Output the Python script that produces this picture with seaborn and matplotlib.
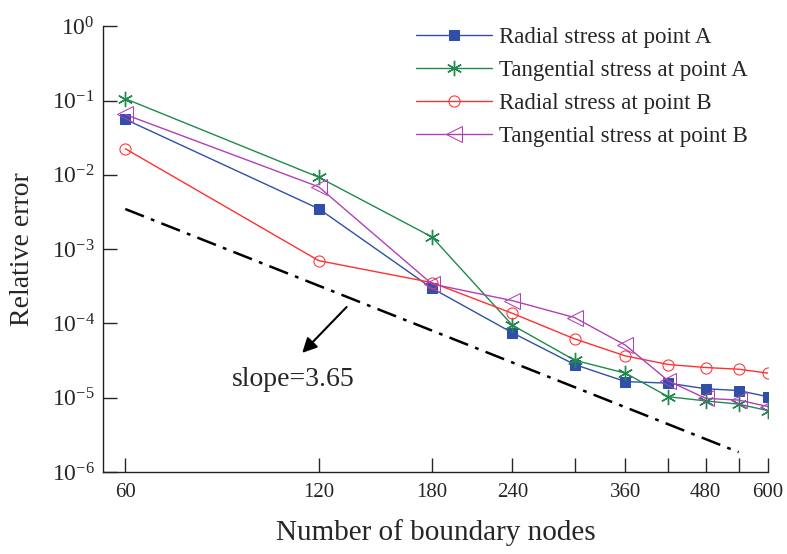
import numpy as np
import pandas as pd
import matplotlib
matplotlib.use("Agg")
import matplotlib.pyplot as plt
import seaborn as sns

nodes = [60, 120, 180, 240, 300, 360, 420, 480, 540, 600]
radial_A = [5.6e-2, 3.5e-3, 2.98e-4, 7.5e-5, 2.8e-5, 1.65e-5, 1.57e-5, 1.32e-5, 1.25e-5, 1.03e-5]
tangential_A = [1.06e-1, 9.3e-3, 1.46e-3, 9.5e-5, 3.2e-5, 2.14e-5, 1.03e-5, 9.06e-6, 8.2e-6, 6.7e-6]
radial_B = [2.25e-2, 7.0e-4, 3.55e-4, 1.37e-4, 6.2e-5, 3.65e-5, 2.8e-5, 2.55e-5, 2.42e-5, 2.14e-5]
tangential_B = [6.5e-2, 6.9e-3, 3.4e-4, 2.03e-4, 1.2e-4, 5.1e-5, 1.68e-5, 9.8e-6, 9.3e-6, 7.6e-6]
series_names = ["Radial stress at point A", "Tangential stress at point A",
                "Radial stress at point B", "Tangential stress at point B"]
ref_x = [60, 540]
ref_y = [3.47e-3, 1.85e-6]
x_ticks = [60, 120, 180, 240, 300, 360, 420, 480, 540, 600]
x_tick_labels = ["60", "120", "180", "240", "", "360", "", "480", "", "600"]
y_ticks = [1e-6, 1e-5, 1e-4, 1e-3, 1e-2, 1e-1, 1e0]
y_tick_labels = [r"$\mathregular{10^{-6}}$", r"$\mathregular{10^{-5}}$", r"$\mathregular{10^{-4}}$",
                 r"$\mathregular{10^{-3}}$", r"$\mathregular{10^{-2}}$", r"$\mathregular{10^{-1}}$",
                 r"$\mathregular{10^{0}}$"]

sns.set_style("ticks")
plt.rcParams["font.family"] = ["Liberation Serif", "DejaVu Serif"]
plt.rcParams["axes.unicode_minus"] = False
plt.rcParams["mathtext.fontset"] = "custom"
plt.rcParams["mathtext.rm"] = "Liberation Serif"
plt.rcParams["mathtext.it"] = "Liberation Serif:italic"
plt.rcParams["mathtext.bf"] = "Liberation Serif:bold"

fig = plt.figure(figsize=(7.87, 5.54), dpi=100)
ax = fig.add_axes([0.1309, 0.148, 0.845, 0.8045])

styles = [
    dict(color="#2f4fa8", marker="s", markersize=7, markerfacecolor="#2f4fa8", markeredgecolor="#2f4fa8"),
    dict(color="#1f8a4c", marker=(6, 2, 0), markersize=11, markeredgewidth=1.0, markeredgecolor="#1f8a4c"),
    dict(color="#ff3030", marker="o", markersize=8, markerfacecolor="none", markeredgecolor="#ff3030"),
    dict(color="#b040b8", marker="<", markersize=11, markerfacecolor="none", markeredgecolor="#b040b8"),
]
all_vals = [radial_A, tangential_A, radial_B, tangential_B]
for name, vals, st in zip(series_names, all_vals, styles):
    df = pd.DataFrame({"nodes": nodes, "err": vals})
    sns.lineplot(data=df, x="nodes", y="err", ax=ax, label=name, linewidth=1.0, **st)

ax.plot(ref_x, ref_y, color="black", linestyle=(0, (8, 3, 1.5, 3)), linewidth=1.8)

ax.set_xscale("log")
ax.set_yscale("log")
ax.set_xlim(55.4, 600)
ax.set_ylim(1e-6, 1e0)
ax.set_xticks(x_ticks)
ax.set_xticklabels(x_tick_labels)
ax.set_yticks(y_ticks)
ax.set_yticklabels(y_tick_labels)
ax.minorticks_off()
ax.tick_params(direction="in", length=10, width=1.0, pad=8)
ax.tick_params(axis="x", labelsize=15)
ax.tick_params(axis="y", labelsize=17, pad=6)
for s in ["top", "right"]:
    ax.spines[s].set_visible(False)
for s in ["left", "bottom"]:
    ax.spines[s].set_linewidth(1.0)
    ax.spines[s].set_color("#222222")

ax.set_xlabel("Number of boundary nodes", fontsize=21, labelpad=12)
ax.set_ylabel("Relative error", fontsize=20, labelpad=12)

ax.annotate("", xy=(112.3, 3.77e-5), xytext=(133.5, 1.77e-4),
            arrowprops=dict(arrowstyle="-|>", color="black", lw=1.5, mutation_scale=22))
ax.text(109.6, 1.75e-5, "slope=3.65", fontsize=20, ha="center", va="center")

leg = ax.legend(loc="upper right", bbox_to_anchor=(1.0, 1.045), frameon=False, fontsize=16.5,
                handlelength=3.3, labelspacing=0.52, handletextpad=0.3)

fig.savefig("out.png", dpi=100)
